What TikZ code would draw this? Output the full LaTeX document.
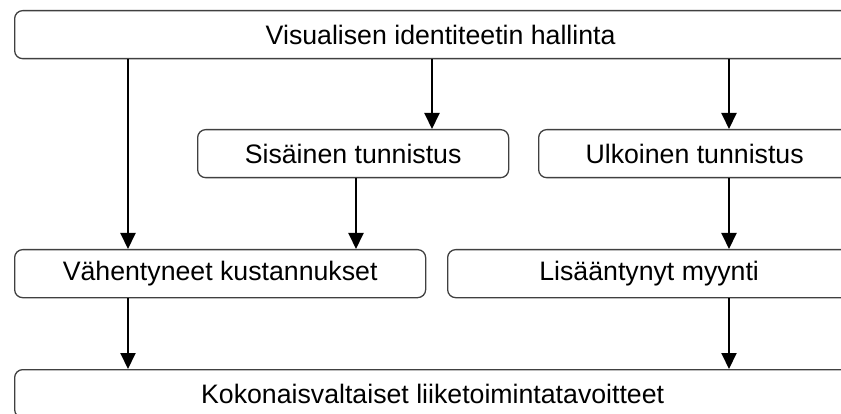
\documentclass[tikz,border=0pt]{standalone}
\usepackage{fontspec}
\setmainfont{Liberation Sans}
\usepackage{tikz}
\usetikzlibrary{positioning,arrows.meta}

\begin{document}
\begin{tikzpicture}
[
x=1pt, y=-1pt,
box-a/.style={draw=black!75, line width=1.3pt, rounded corners=8pt,
              minimum height=48pt, inner sep=0pt, anchor=north west,
              font=\fontsize{26.7}{30}\selectfont},
arr-a/.style={-{Triangle[width=15pt,length=16pt]}, line width=2pt, black}
]
\useasboundingbox (0,0) rectangle (841,414);
\clip (0,0) rectangle (841,414);
% boxes
\node (box-top) [box-a, minimum width=852pt] at ( 14, 10) {Visualisen identiteetin hallinta};
\node (box-sis) [box-a, minimum width=311pt] at (197,129) {Sisäinen tunnistus};
\node (box-ulk) [box-a, minimum width=312pt] at (538,129) {Ulkoinen tunnistus};
\node (box-vah) [box-a, minimum width=411pt] at ( 14,249) {Vähentyneet kustannukset};
\node (box-lis) [box-a, minimum width=403pt] at (447,249) {Lisääntynyt myynti};
\node (box-kok) [box-a, minimum width=836pt] at ( 14,369) {Kokonaisvaltaiset liiketoimintatavoitteet};
% arrow columns
\coordinate (col-1) at (128,0);
\coordinate (col-2) at (356,0);
\coordinate (col-3) at (432,0);
\coordinate (col-4) at (729,0);
% arrows
\draw [arr-a] (box-top.south -| col-1) -- (box-vah.north -| col-1);
\draw [arr-a] (box-top.south -| col-3) -- (box-sis.north -| col-3);
\draw [arr-a] (box-top.south -| col-4) -- (box-ulk.north -| col-4);
\draw [arr-a] (box-sis.south -| col-2) -- (box-vah.north -| col-2);
\draw [arr-a] (box-ulk.south -| col-4) -- (box-lis.north -| col-4);
\draw [arr-a] (box-vah.south -| col-1) -- (box-kok.north -| col-1);
\draw [arr-a] (box-lis.south -| col-4) -- (box-kok.north -| col-4);
\end{tikzpicture}
\end{document}
